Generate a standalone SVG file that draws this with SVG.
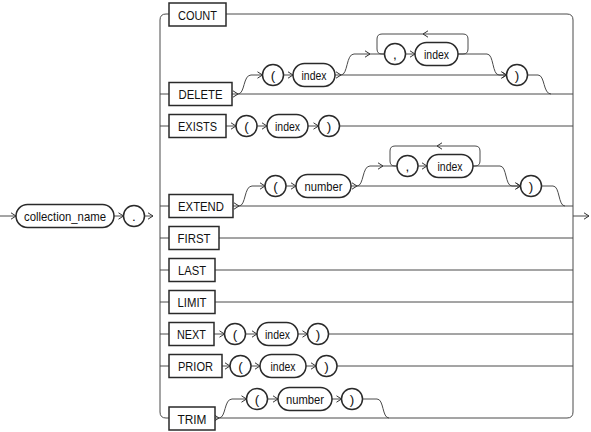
<svg xmlns="http://www.w3.org/2000/svg" width="591" height="432" viewBox="0 0 591 432">
<style>
.ln{fill:none;stroke:#4a4a4a;stroke-width:1}
.ar{marker-end:url(#a)}
.bx{fill:#fff;stroke:#2a2a2a;stroke-width:1.5}
.t{font-family:"Liberation Sans",Arial,sans-serif;font-size:13.5px;text-anchor:middle;fill:#111}
</style>
<defs>
<marker id="a" viewBox="0 0 6 8" refX="5.5" refY="4" markerWidth="6" markerHeight="8" markerUnits="userSpaceOnUse" orient="auto">
<path d="M0.5,0.8 L5.5,4 L0.5,7.2" fill="none" stroke="#333" stroke-width="1"/>
</marker>
</defs>
<rect width="591" height="432" fill="#fff"/>
<g id="connectors">
<!-- entry -->
<path class="ln ar" d="M0,216 H16"/>
<path class="ln ar" d="M114,216 H123.5"/>
<path class="ln ar" d="M144.5,216 H153"/>
<!-- buses -->
<path class="ln" d="M169,14 H166 Q160,14 160,20 V412 Q160,418 166,418 H169"/>
<path class="ln" d="M226,14 H567 Q573,14 573,20 V412 Q573,418 567,418 H219"/>
<path class="ln ar" d="M573,216 H589"/>
<path class="ln" d="M160,94 H169 M160,126 H169 M160,206 H169 M160,238 H169 M160,270 H169 M160,302 H169 M160,334 H169 M160,366 H169"/>
<!-- DELETE -->
<path class="ln ar" d="M232,94 H238"/>
<path class="ln" d="M238,94 H573"/>
<path class="ln ar" d="M238,94 C245,94 243,75 251,75 H262.5"/>
<path class="ln ar" d="M283.5,75 H293"/>
<path class="ln ar" d="M335,75 H341"/>
<path class="ln ar" d="M341,75 H506.5"/>
<path class="ln ar" d="M341,75 C348,75 346,54 354,54 H370"/>
<path class="ln" d="M370,54 H384.5"/>
<path class="ln ar" d="M405.5,54 H415"/>
<path class="ln ar" d="M458,54 H463 Q468,54 468,49 V39 Q468,34 463,34 H423"/>
<path class="ln" d="M423,34 H382 Q377,34 377,39 V49 Q377,54 382,54 H384.5"/>
<path class="ln ar" d="M458,54 H487 C494,54 492,75 499,75 H506.5"/>
<path class="ln" d="M527.5,75 H538 C545,75 543,94 551,94"/>
<!-- EXISTS -->
<path class="ln ar" d="M226,126 H236"/>
<path class="ln ar" d="M257,126 H267"/>
<path class="ln ar" d="M308,126 H318.5"/>
<path class="ln" d="M339.5,126 H573"/>
<!-- EXTEND -->
<path class="ln ar" d="M233,206 H239"/>
<path class="ln" d="M239,206 H573"/>
<path class="ln ar" d="M239,206 C246,206 244,186 252,186 H265"/>
<path class="ln ar" d="M286,186 H296"/>
<path class="ln ar" d="M351,186 H357"/>
<path class="ln ar" d="M357,186 H520.5"/>
<path class="ln ar" d="M357,186 C364,186 362,166 370,166 H383"/>
<path class="ln" d="M383,166 H397"/>
<path class="ln ar" d="M418,166 H427"/>
<path class="ln ar" d="M473,166 H475 Q480,166 480,161 V151 Q480,146 475,146 H437"/>
<path class="ln" d="M437,146 H395 Q390,146 390,151 V161 Q390,166 395,166 H397"/>
<path class="ln ar" d="M473,166 H500 C507,166 505,186 512,186 H520.5"/>
<path class="ln" d="M541.5,186 H553 C560,186 558,206 565,206"/>
<!-- FIRST LAST LIMIT -->
<path class="ln" d="M219,238 H573 M215,270 H573 M215,302 H573"/>
<!-- NEXT -->
<path class="ln ar" d="M214,334 H224.5"/>
<path class="ln ar" d="M245.5,334 H257"/>
<path class="ln ar" d="M298,334 H307.5"/>
<path class="ln" d="M328.5,334 H573"/>
<!-- PRIOR -->
<path class="ln ar" d="M222,366 H230"/>
<path class="ln ar" d="M251,366 H260"/>
<path class="ln ar" d="M306,366 H316"/>
<path class="ln" d="M337,366 H573"/>
<!-- TRIM -->
<path class="ln ar" d="M215,418 H219"/>
<path class="ln ar" d="M219,418 C226,418 224,399 232,399 H246.5"/>
<path class="ln ar" d="M267.5,399 H278"/>
<path class="ln ar" d="M332,399 H341.5"/>
<path class="ln" d="M362.5,399 H377 C384,399 382,418 389,418"/>
</g>
<g id="n_collection_name"><rect class="bx" x="16" y="204.5" width="98" height="23" rx="11.5"/><text class="t" x="65" y="221" textLength="82" lengthAdjust="spacingAndGlyphs">collection_name</text></g>
<g id="n_dot"><circle class="bx" cx="134" cy="216" r="10.5"/><text class="t" x="134" y="221">.</text></g>
<g id="n_count"><rect class="bx" x="169" y="3" width="57" height="23"/><text class="t" x="197.5" y="19.5" textLength="39" lengthAdjust="spacingAndGlyphs">COUNT</text></g>
<g id="n_delete"><rect class="bx" x="169" y="82.5" width="63" height="23"/><text class="t" x="200.5" y="99" textLength="44" lengthAdjust="spacingAndGlyphs">DELETE</text></g>
<g id="n_del_lp"><circle class="bx" cx="273" cy="75" r="10.5"/><text class="t" x="273" y="80">(</text></g>
<g id="n_del_index"><rect class="bx" x="293" y="63.5" width="42" height="23" rx="11.5"/><text class="t" x="314" y="80" textLength="25" lengthAdjust="spacingAndGlyphs">index</text></g>
<g id="n_del_comma"><circle class="bx" cx="395" cy="54" r="10.5"/><text class="t" x="395" y="59">,</text></g>
<g id="n_del_index2"><rect class="bx" x="415" y="42.5" width="43" height="23" rx="11.5"/><text class="t" x="436.5" y="59" textLength="25" lengthAdjust="spacingAndGlyphs">index</text></g>
<g id="n_del_rp"><circle class="bx" cx="517" cy="75" r="10.5"/><text class="t" x="517" y="80">)</text></g>
<g id="n_exists"><rect class="bx" x="169" y="114.5" width="57" height="23"/><text class="t" x="197.5" y="131" textLength="39" lengthAdjust="spacingAndGlyphs">EXISTS</text></g>
<g id="n_ex_lp"><circle class="bx" cx="246.5" cy="126" r="10.5"/><text class="t" x="246.5" y="131">(</text></g>
<g id="n_ex_index"><rect class="bx" x="267" y="114.5" width="41" height="23" rx="11.5"/><text class="t" x="287.5" y="131" textLength="25" lengthAdjust="spacingAndGlyphs">index</text></g>
<g id="n_ex_rp"><circle class="bx" cx="329" cy="126" r="10.5"/><text class="t" x="329" y="131">)</text></g>
<g id="n_extend"><rect class="bx" x="169" y="194.5" width="64" height="23"/><text class="t" x="201" y="211" textLength="46" lengthAdjust="spacingAndGlyphs">EXTEND</text></g>
<g id="n_xt_lp"><circle class="bx" cx="275.5" cy="186" r="10.5"/><text class="t" x="275.5" y="191">(</text></g>
<g id="n_xt_number"><rect class="bx" x="296" y="174.5" width="55" height="23" rx="11.5"/><text class="t" x="323.5" y="191" textLength="38" lengthAdjust="spacingAndGlyphs">number</text></g>
<g id="n_xt_comma"><circle class="bx" cx="407.5" cy="166" r="10.5"/><text class="t" x="407.5" y="171">,</text></g>
<g id="n_xt_index"><rect class="bx" x="427" y="154.5" width="46" height="23" rx="11.5"/><text class="t" x="450" y="171" textLength="25" lengthAdjust="spacingAndGlyphs">index</text></g>
<g id="n_xt_rp"><circle class="bx" cx="531" cy="186" r="10.5"/><text class="t" x="531" y="191">)</text></g>
<g id="n_first"><rect class="bx" x="169" y="226.5" width="50" height="23"/><text class="t" x="194" y="243" textLength="33" lengthAdjust="spacingAndGlyphs">FIRST</text></g>
<g id="n_last"><rect class="bx" x="169" y="258.5" width="46" height="23"/><text class="t" x="192" y="275" textLength="28" lengthAdjust="spacingAndGlyphs">LAST</text></g>
<g id="n_limit"><rect class="bx" x="169" y="290.5" width="46" height="23"/><text class="t" x="192" y="307" textLength="29" lengthAdjust="spacingAndGlyphs">LIMIT</text></g>
<g id="n_next"><rect class="bx" x="169" y="322.5" width="45" height="23"/><text class="t" x="191.5" y="339" textLength="29" lengthAdjust="spacingAndGlyphs">NEXT</text></g>
<g id="n_nx_lp"><circle class="bx" cx="235" cy="334" r="10.5"/><text class="t" x="235" y="339">(</text></g>
<g id="n_nx_index"><rect class="bx" x="257" y="322.5" width="41" height="23" rx="11.5"/><text class="t" x="277.5" y="339" textLength="25" lengthAdjust="spacingAndGlyphs">index</text></g>
<g id="n_nx_rp"><circle class="bx" cx="318" cy="334" r="10.5"/><text class="t" x="318" y="339">)</text></g>
<g id="n_prior"><rect class="bx" x="169" y="354.5" width="53" height="23"/><text class="t" x="195.5" y="371" textLength="35" lengthAdjust="spacingAndGlyphs">PRIOR</text></g>
<g id="n_pr_lp"><circle class="bx" cx="240.5" cy="366" r="10.5"/><text class="t" x="240.5" y="371">(</text></g>
<g id="n_pr_index"><rect class="bx" x="260" y="354.5" width="46" height="23" rx="11.5"/><text class="t" x="283" y="371" textLength="25" lengthAdjust="spacingAndGlyphs">index</text></g>
<g id="n_pr_rp"><circle class="bx" cx="326.5" cy="366" r="10.5"/><text class="t" x="326.5" y="371">)</text></g>
<g id="n_trim"><rect class="bx" x="169" y="407" width="46" height="23"/><text class="t" x="192" y="423.5" textLength="29" lengthAdjust="spacingAndGlyphs">TRIM</text></g>
<g id="n_tr_lp"><circle class="bx" cx="257" cy="399" r="10.5"/><text class="t" x="257" y="404">(</text></g>
<g id="n_tr_number"><rect class="bx" x="278" y="387.5" width="54" height="23" rx="11.5"/><text class="t" x="305" y="404" textLength="38" lengthAdjust="spacingAndGlyphs">number</text></g>
<g id="n_tr_rp"><circle class="bx" cx="352" cy="399" r="10.5"/><text class="t" x="352" y="404">)</text></g>
</svg>
